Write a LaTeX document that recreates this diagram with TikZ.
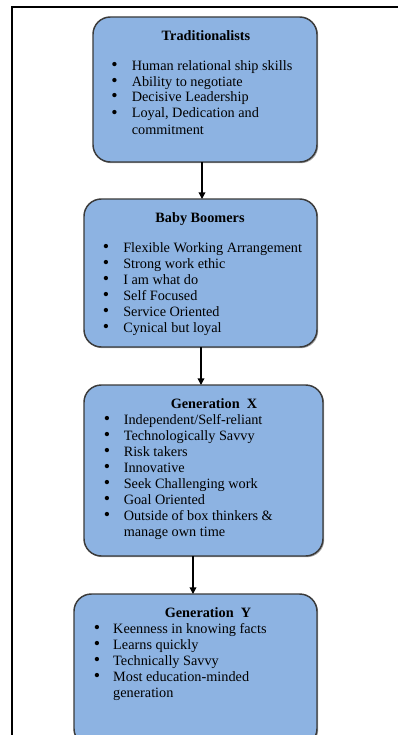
\documentclass[tikz,border=0pt]{standalone}
\usepackage{fontspec}
\setmainfont{Liberation Serif}
\usetikzlibrary{arrows.meta,shadows}
\definecolor{boxfill}{HTML}{8DB3E2}
\definecolor{boxline}{HTML}{3A3A3A}
\newcommand\itemfont{\fontsize{10.7}{12}\selectfont}
\newcommand\blt{{\fontsize{13.5}{12}\selectfont\textbullet}}
\tikzset{
  genbox/.style={draw=boxline, fill=boxfill, line width=1.1pt, rounded corners=13pt,
    inner sep=0pt, outer sep=0pt,
    drop shadow={shadow xshift=0.9pt, shadow yshift=-0.9pt, opacity=0.35, fill=black}},
  gentitle/.style={anchor=base, inner sep=0pt, font=\itemfont\bfseries},
  genlist/.style={anchor=base west, inner sep=0pt, font=\itemfont},
  flow/.style={draw=black, line width=1pt, -{Triangle[length=5pt,width=5pt]}},
  frame/.style={draw=black, line width=1.6pt}
}
\begin{document}
\begin{tikzpicture}[x=0.75pt, y=-0.75pt]
\path[clip] (0,0) rectangle (398,735);
\fill[white] (0,0) rectangle (398,735);

% outer frame: top and left edges
\draw[frame] (400,7.3) -- (11.7,7.3) -- (11.7,740);

% generation boxes
\node[genbox, minimum width=224*0.75pt, minimum height=145*0.75pt] (b1) at (205,89.5) {};
\node[genbox, minimum width=233*0.75pt, minimum height=148*0.75pt] (b2) at (200.5,273) {};
\node[genbox, minimum width=239*0.75pt, minimum height=171*0.75pt] (b3) at (203.5,470.5) {};
\node[genbox, minimum width=243*0.75pt, minimum height=152*0.75pt] (b4) at (195.5,670) {};

% titles
\node[gentitle] (t1) at (206,41) {Traditionalists};
\node[gentitle] (t2) at (200,222) {Baby Boomers};
\node[gentitle] (t3) at (214,408) {Generation\ \ X};
\node[gentitle] (t4) at (208,617) {Generation\ \ Y};

% bullet lists
\node[genlist] (l1) at (111,70) {\begin{tabular}[t]{@{}p{15.4pt}@{}l@{}}
\blt & Human relational ship skills\\
\blt & Ability to negotiate\\
\blt & Decisive Leadership\\
\blt & Loyal, Dedication and\\
 & commitment
\end{tabular}};

\node[genlist] (l2) at (102.5,252.5) {\begin{tabular}[t]{@{}p{15.4pt}@{}l@{}}
\blt & Flexible Working Arrangement\\
\blt & Strong work ethic\\
\blt & I am what do\\
\blt & Self Focused\\
\blt & Service Oriented\\
\blt & Cynical but loyal
\end{tabular}};

\node[genlist] (l3) at (103.5,424) {\begin{tabular}[t]{@{}p{15pt}@{}l@{}}
\blt & Independent/Self-reliant\\
\blt & Technologically Savvy\\
\blt & Risk takers\\
\blt & Innovative\\
\blt & Seek Challenging work\\
\blt & Goal Oriented\\
\blt & Outside of box thinkers \&\\
 & manage own time
\end{tabular}};

\node[genlist] (l4) at (93.5,633.5) {\begin{tabular}[t]{@{}p{14.6pt}@{}l@{}}
\blt & Keenness in knowing facts\\
\blt & Learns quickly\\
\blt & Technically Savvy\\
\blt & Most education-minded\\
 & generation
\end{tabular}};

% connectors
\draw[flow] ([xshift=-3*0.75pt]b1.south) -- ([xshift=1.5*0.75pt]b2.north);
\draw[flow] ([xshift=0.5*0.75pt]b2.south) -- ([xshift=-2.5*0.75pt]b3.north);
\draw[flow] ([xshift=-10.5*0.75pt]b3.south) -- ([xshift=-2.5*0.75pt]b4.north);
\end{tikzpicture}
\end{document}
